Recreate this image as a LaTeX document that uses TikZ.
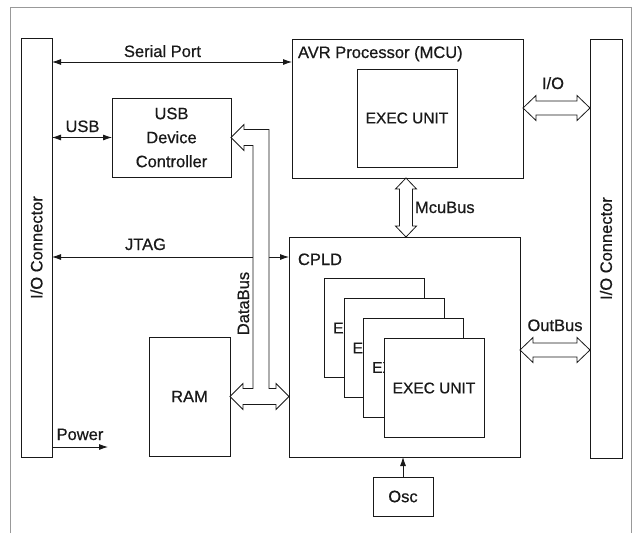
\documentclass[tikz,border=0pt]{standalone}
\usepackage{fontspec}
\setmainfont[FakeBold=0.6]{Liberation Sans}
\usetikzlibrary{calc,arrows.meta}
\definecolor{ink}{gray}{0.1}
\definecolor{framegray}{gray}{0.6}
\newcommand\diafont{\fontsize{16.5}{24}\selectfont}
\newcommand\execfont{\fontsize{15.5}{18}\selectfont}
% hollow horizontal bus arrow between two named coordinates (left tip, right tip)
\newcommand\HBus[2]{%
  \draw[busline] (#1) -- ($(#1)+(13,-12.5)$) -- ($(#1)+(13,-7)$) -- ($(#2)+(-13,-7)$) --
    ($(#2)+(-13,-12.5)$) -- (#2) -- ($(#2)+(-13,12.5)$) -- ($(#2)+(-13,7)$) --
    ($(#1)+(13,7)$) -- ($(#1)+(13,12.5)$) -- cycle;}
% hollow vertical bus arrow (top tip, bottom tip)
\newcommand\VBus[2]{%
  \draw[busline] (#1) -- ($(#1)+(10.5,11)$) -- ($(#1)+(6.5,11)$) -- ($(#2)+(6.5,-11)$) --
    ($(#2)+(10.5,-11)$) -- (#2) -- ($(#2)+(-10.5,-11)$) -- ($(#2)+(-6.5,-11)$) --
    ($(#1)+(-6.5,11)$) -- ($(#1)+(-10.5,11)$) -- cycle;}
\begin{document}
\begin{tikzpicture}[x=1pt,y=-1pt,
  every node/.style={font=\diafont, text=ink},
  blk/.style={draw=ink, line width=0.9pt, fill=white, inner sep=0pt, outer sep=0pt},
  exec/.style={blk, minimum width=100pt, minimum height=99pt, font=\execfont},
  lbl/.style={inner sep=0pt, outer sep=0pt},
  conn/.style={draw=ink, line width=0.8pt},
  busline/.style={draw=ink, line width=0.8pt, fill=white, line join=miter},
  biarr/.style={conn, {Latex[length=9pt,width=6pt]}-{Latex[length=9pt,width=6pt]}},
  onearr/.style={conn, -{Latex[length=9pt,width=6pt]}}]
\useasboundingbox (0,0) rectangle (636,533);
% outer frame (open at the bottom)
\draw[framegray, line width=0.6pt] (10,533) -- (10,7) -- (631,7) -- (631,533);

% I/O connectors
\node[blk, minimum width=31pt, minimum height=419pt] (lio) at (36.5,247.5) {};
\node[lbl, rotate=90] (liot) at (lio.center) {I/O Connector};
\node[blk, minimum width=32pt, minimum height=419pt] (rio) at (606,248.5) {};
\node[lbl, rotate=90] (riot) at (rio.center) {I/O Connector};

% AVR processor
\node[blk, minimum width=231pt, minimum height=139pt] (avr) at (407.5,108.5) {};
\node[lbl, anchor=base west] (avrt) at ($(avr.north west)+(6,19)$) {AVR Processor (MCU)};
\node[exec, minimum height=98pt] (avrex) at (407,118) {EXEC UNIT};

% USB device controller
\node[blk, minimum width=119pt, minimum height=79pt, align=center] (usb) at (171.5,137.5) {USB\\Device\\Controller};

% CPLD with stacked exec units
\node[blk, minimum width=231pt, minimum height=220pt] (cpld) at (404.5,347) {};
\node[lbl, anchor=base west] (cpldt) at ($(cpld.north west)+(9,28)$) {CPLD};
\node[exec] (ex1) at (374.5,328) {EXEC UNIT};
\node[exec] (ex2) at (394,348) {EXEC UNIT};
\node[exec] (ex3) at (413.5,367.5) {EXEC UNIT};
\node[exec] (ex4) at (434,388) {EXEC UNIT};

% RAM and oscillator
\node[blk, minimum width=81pt, minimum height=119pt] (ram) at (189.5,396.5) {RAM};
\node[blk, minimum width=60pt, minimum height=39pt] (osc) at (403,496.5) {Osc};

% thin connectors
\coordinate (ysp) at (0,62);
\draw[biarr] (lio.east |- ysp) -- (avr.west |- ysp);
\node[lbl, anchor=base] (spt) at (162.5,57) {Serial Port};

\draw[biarr] (lio.east |- usb.west) -- (usb.west);
\node[lbl, anchor=base] (usbt) at (82.5,132) {USB};

\coordinate (yjt) at (0,257);
\draw[biarr] (lio.east |- yjt) -- (cpld.west |- yjt);
\node[lbl, anchor=base] (jtt) at (145.5,250) {JTAG};

\coordinate (pwend) at (108,447);
\draw[onearr] (lio.east |- pwend) -- (pwend);
\node[lbl, anchor=base] (pwt) at (80,440) {Power};

\draw[onearr] (osc.north) -- (osc.north |- cpld.south);

% hollow buses
\coordinate (yio) at (0,108);
\coordinate (ioL) at (avr.east |- yio);
\coordinate (ioR) at (rio.west |- yio);
\HBus{ioL}{ioR}
\node[lbl, anchor=base] (iot) at (553,89) {I/O};

\coordinate (yob) at (0,350);
\coordinate (obL) at (cpld.east |- yob);
\coordinate (obR) at (rio.west |- yob);
\HBus{obL}{obR}
\node[lbl, anchor=base] (obt) at (555,331) {OutBus};

\coordinate (xmc) at (406,0);
\coordinate (mcT) at (avr.south -| xmc);
\coordinate (mcB) at (cpld.north -| xmc);
\VBus{mcT}{mcB}
\node[lbl, anchor=base west] (mct) at (415,213) {McuBus};

% DataBus: T-shaped hollow bus
\coordinate (dbU) at (usb.east);
\coordinate (dbL) at (ram.east);
\coordinate (dbR) at (cpld.west |- dbL);
\coordinate (dbx) at (261,0);
\coordinate (dbTop) at (dbx |- dbU);
\coordinate (dbBot) at (dbx |- dbL);
\draw[busline] (dbU) -- ($(dbU)+(13,-13)$) -- ($(dbU)+(13,-8)$) -- ($(dbTop)+(8,-8)$) --
  ($(dbBot)+(8,-8)$) -- ($(dbR)+(-13,-8)$) -- ($(dbR)+(-13,-13)$) -- (dbR) --
  ($(dbR)+(-13,13)$) -- ($(dbR)+(-13,8)$) -- ($(dbL)+(13,8)$) -- ($(dbL)+(13,13)$) --
  (dbL) -- ($(dbL)+(13,-13)$) -- ($(dbL)+(13,-8)$) -- ($(dbBot)+(-8,-8)$) --
  ($(dbTop)+(-8,8)$) -- ($(dbU)+(13,8)$) -- ($(dbU)+(13,13)$) -- cycle;
\node[lbl, rotate=90, anchor=base] (dbt) at (249,303.5) {DataBus};
\end{tikzpicture}
\end{document}
